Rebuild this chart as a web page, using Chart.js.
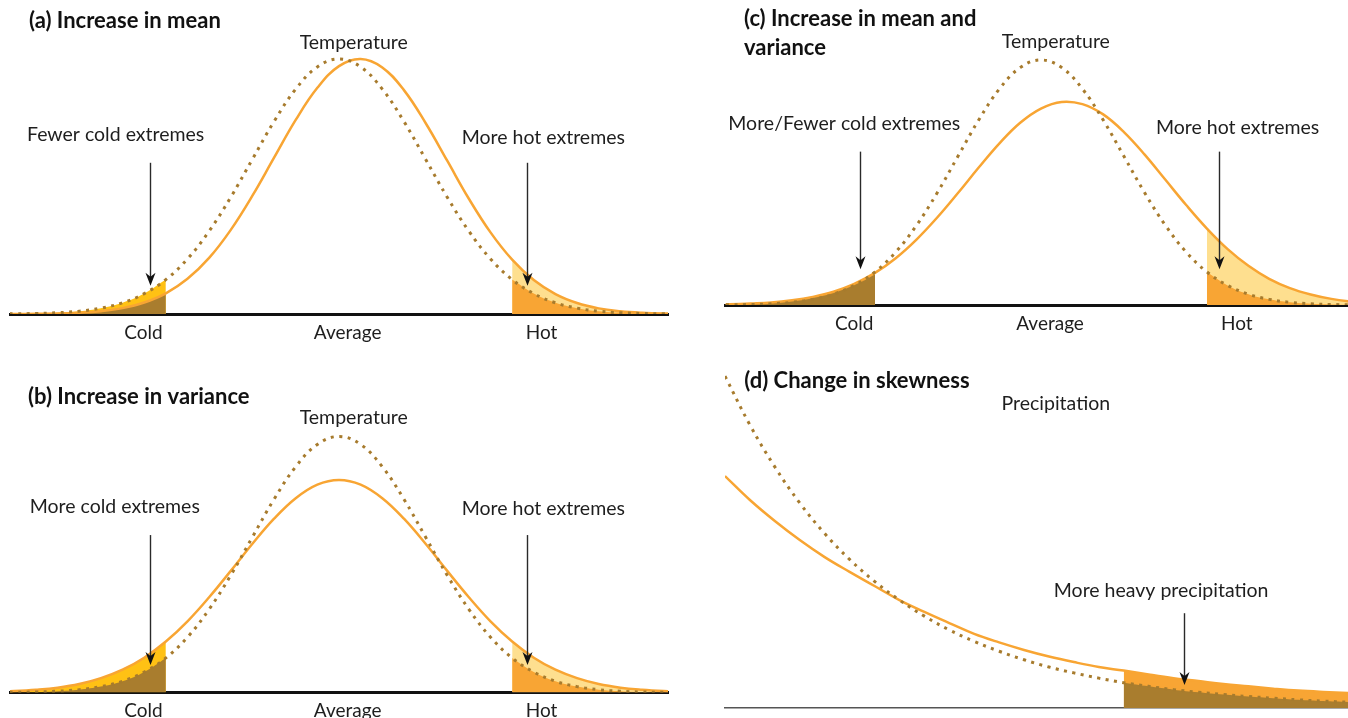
<!DOCTYPE html>
<html>
<head>
<meta charset="utf-8">
<script src="https://cdn.jsdelivr.net/npm/chart.js@4.4.1/dist/chart.umd.min.js"></script>
<style>
  body { margin: 0; background: #fff; }
  canvas { position: absolute; }
</style>
</head>
<body>
<canvas id="panelA" width="674" height="352" style="left:0;top:0"></canvas>
<canvas id="panelB" width="674" height="348" style="left:0;top:370px"></canvas>
<canvas id="panelC" width="648" height="352" style="left:700px;top:0"></canvas>
<canvas id="panelD" width="648" height="358" style="left:700px;top:360px"></canvas>
<script>
// Temperature panels: x in standard deviations of the old climate, y relative to old peak
const tempX = [-4, -3.75, -3.5, -3.25, -3, -2.75, -2.5, -2.25, -2, -1.75, -1.5, -1.25, -1, -0.75, -0.5, -0.25,
  0, 0.25, 0.5, 0.75, 1, 1.25, 1.5, 1.75, 2, 2.25, 2.5, 2.75, 3, 3.25, 3.5, 3.75, 4];
const oldTemp = [0.000, 0.001, 0.002, 0.005, 0.011, 0.023, 0.044, 0.080, 0.135, 0.216, 0.325, 0.458, 0.607, 0.755, 0.882, 0.969,
  1.000, 0.969, 0.882, 0.755, 0.607, 0.458, 0.325, 0.216, 0.135, 0.080, 0.044, 0.023, 0.011, 0.005, 0.002, 0.001, 0.000];
const newMean = [0.000, 0.000, 0.001, 0.002, 0.005, 0.011, 0.023, 0.045, 0.081, 0.138, 0.220, 0.330, 0.464, 0.613, 0.761, 0.887,
  0.972, 1.000, 0.967, 0.878, 0.749, 0.601, 0.452, 0.320, 0.213, 0.133, 0.078, 0.043, 0.022, 0.011, 0.005, 0.002, 0.001];
const newVariance = [0.003, 0.006, 0.011, 0.019, 0.033, 0.056, 0.089, 0.136, 0.199, 0.278, 0.372, 0.475, 0.581, 0.679, 0.759, 0.812,
  0.830, 0.812, 0.759, 0.679, 0.581, 0.475, 0.372, 0.278, 0.199, 0.136, 0.089, 0.056, 0.033, 0.019, 0.011, 0.006, 0.003];
const newMeanVariance = [0.001, 0.003, 0.006, 0.010, 0.019, 0.033, 0.054, 0.086, 0.131, 0.191, 0.267, 0.357, 0.457, 0.561, 0.660, 0.744,
  0.802, 0.829, 0.820, 0.778, 0.706, 0.614, 0.511, 0.408, 0.312, 0.228, 0.160, 0.107, 0.069, 0.043, 0.025, 0.014, 0.008];

// Precipitation panel
const precipX = [0, 4, 8, 12, 16, 20, 24, 28, 32, 36, 40, 44, 48, 52, 56, 60, 64, 68, 72, 76, 80, 84, 88, 92, 96, 100];
const oldPrecip = [101.2, 86.3, 73.5, 62.5, 53.2, 45.3, 38.6, 32.9, 28.0, 23.8, 20.3, 17.3, 14.7, 12.5, 10.7, 9.1,
  7.7, 6.6, 5.6, 4.8, 4.1, 3.5, 3.0, 2.5, 2.1, 1.8];
const newPrecip = [70.7, 63.4, 57.0, 51.2, 46.0, 41.5, 37.2, 32.9, 29.3, 25.9, 22.6, 20.0, 17.7, 15.7, 14.0, 12.5,
  11.4, 10.2, 9.1, 8.2, 7.3, 6.6, 5.9, 5.3, 4.9, 4.6];

const axisLabels = ['Cold', 'Average', 'Hot'];
const axisLabelPosAB = [-2.26, 0.10, 2.34];
const axisLabelPosC = [-2.25, 0.11, 2.36];
const coldLimit = -2, hotLimit = 2, heavyLimit = 64;

const FONT = 'Lato, "Open Sans", sans-serif';
const ORANGE = '#F8A533', DOTS = '#A77B2D';
const BROWN = '#A97D2E', GOLD = '#FFC114', PALE = '#FEDF8F', AMBER = '#F8A534';

const pts = (xs, ys) => xs.map((x, i) => ({ x, y: ys[i] }));

function curve(xs, ys, dotted) {
  return {
    data: pts(xs, ys),
    borderColor: dotted ? DOTS : ORANGE,
    borderWidth: dotted ? 3 : 2.5,
    borderDash: dotted ? [3, 5.5] : [],
    borderCapStyle: 'butt',
    pointRadius: 0,
    fill: false,
    tension: 0.4,
    order: dotted ? 0 : 1
  };
}

function tail(xs, ys, keep, color, order) {
  return {
    data: pts(xs, ys).filter(p => keep(p.x)),
    borderColor: 'rgba(0,0,0,0)',
    borderWidth: 0,
    backgroundColor: color,
    pointRadius: 0,
    fill: 'origin',
    tension: 0.4,
    order
  };
}

const annotate = {
  id: 'annotate',
  afterDatasetsDraw(chart, args, opts) {
    const { ctx, scales: { x, y } } = chart;
    ctx.save();
    ctx.fillStyle = '#1e1e1e';
    ctx.textAlign = 'center';
    ctx.textBaseline = 'middle';
    ctx.font = '19.5px ' + FONT;
    (opts.notes || []).forEach(n => ctx.fillText(n.text, x.getPixelForValue(n.x), y.getPixelForValue(n.y)));

    ctx.strokeStyle = '#2a2a2a';
    ctx.fillStyle = '#111';
    ctx.lineWidth = 1.4;
    (opts.arrows || []).forEach(a => {
      const px = Math.round(x.getPixelForValue(a.x)) + 0.5;
      const top = y.getPixelForValue(a.from), tip = y.getPixelForValue(a.to);
      ctx.beginPath();
      ctx.moveTo(px, top);
      ctx.lineTo(px, tip - 8);
      ctx.stroke();
      ctx.beginPath();
      ctx.moveTo(px, tip);
      ctx.lineTo(px - 5, tip - 13);
      ctx.lineTo(px, tip - 9);
      ctx.lineTo(px + 5, tip - 13);
      ctx.closePath();
      ctx.fill();
    });

    ctx.fillStyle = '#111';
    ctx.textAlign = 'left';
    ctx.font = 'bold 22px ' + FONT;
    (opts.title || []).forEach((t, i) => ctx.fillText(t, opts.titleX, opts.titleY + i * 29));
    ctx.restore();
  }
};

function makePanel(id, p) {
  new Chart(document.getElementById(id), {
    type: 'line',
    data: { datasets: p.datasets },
    options: {
      responsive: false,
      animation: false,
      events: [],
      layout: { padding: p.padding },
      scales: {
        x: {
          type: 'linear',
          min: p.xRange[0],
          max: p.xRange[1],
          afterBuildTicks: axis => { axis.ticks = (p.tickPos || []).map(v => ({ value: v })); },
          afterFit: axis => { axis.height = p.axisHeight; },
          grid: { display: false, drawTicks: false },
          border: { display: true, color: p.baseColor || '#111', width: p.baseWidth || 3 },
          ticks: {
            display: !!p.tickPos,
            autoSkip: false,
            maxRotation: 0,
            padding: 7,
            color: '#1e1e1e',
            font: { family: FONT, size: 19 },
            callback: (v, i) => axisLabels[i]
          }
        },
        y: { display: false, min: 0, max: p.yMax }
      },
      plugins: {
        legend: { display: false },
        tooltip: { enabled: false },
        annotate: p.annotate
      }
    },
    plugins: [annotate]
  });
}

const isCold = x => x <= coldLimit;
const isHot = x => x >= hotLimit;

// (a) Increase in mean
makePanel('panelA', {
  padding: { left: 10, right: 6, top: 8, bottom: 8 },
  axisHeight: 30,
  xRange: [-3.8, 3.8],
  yMax: 1.2,
  tickPos: axisLabelPosAB,
  datasets: [
    curve(tempX, oldTemp, true),
    curve(tempX, newMean, false),
    tail(tempX, newMean, isCold, BROWN, 2),
    tail(tempX, oldTemp, isCold, GOLD, 3),
    tail(tempX, oldTemp, isHot, AMBER, 2),
    tail(tempX, newMean, isHot, PALE, 3)
  ],
  annotate: {
    title: ['(a) Increase in mean'], titleX: 29, titleY: 21,
    notes: [
      { text: 'Temperature', x: 0.17, y: 1.064 },
      { text: 'Fewer cold extremes', x: -2.58, y: 0.703 },
      { text: 'More hot extremes', x: 2.36, y: 0.691 }
    ],
    arrows: [{ x: -2.18, from: 0.593, to: 0.111 }, { x: 2.17, from: 0.593, to: 0.111 }]
  }
});

// (b) Increase in variance
makePanel('panelB', {
  padding: { left: 10, right: 6, top: 15.3, bottom: 0 },
  axisHeight: 25.5,
  xRange: [-3.8, 3.8],
  yMax: 1.2,
  tickPos: axisLabelPosAB,
  datasets: [
    curve(tempX, oldTemp, true),
    curve(tempX, newVariance, false),
    tail(tempX, oldTemp, isCold, BROWN, 2),
    tail(tempX, newVariance, isCold, GOLD, 3),
    tail(tempX, oldTemp, isHot, AMBER, 2),
    tail(tempX, newVariance, isHot, PALE, 3)
  ],
  annotate: {
    title: ['(b) Increase in variance'], titleX: 28, titleY: 26.7,
    notes: [
      { text: 'Temperature', x: 0.17, y: 1.073 },
      { text: 'More cold extremes', x: -2.59, y: 0.726 },
      { text: 'More hot extremes', x: 2.36, y: 0.717 }
    ],
    arrows: [{ x: -2.18, from: 0.615, to: 0.107 }, { x: 2.17, from: 0.615, to: 0.107 }]
  }
});

// (c) Increase in mean and variance
makePanel('panelC', {
  padding: { left: 25.6, right: 0, top: 11, bottom: 17 },
  axisHeight: 30,
  xRange: [-3.8, 3.7],
  yMax: 1.2,
  tickPos: axisLabelPosC,
  datasets: [
    curve(tempX, oldTemp, true),
    curve(tempX, newMeanVariance, false),
    tail(tempX, newMeanVariance, isCold, BROWN, 2),
    tail(tempX, oldTemp, isCold, BROWN, 3),
    tail(tempX, oldTemp, isHot, AMBER, 2),
    tail(tempX, newMeanVariance, isHot, PALE, 3)
  ],
  annotate: {
    title: ['(c) Increase in mean and', 'variance'], titleX: 44, titleY: 19.3,
    notes: [
      { text: 'Temperature', x: 0.18, y: 1.075 },
      { text: 'More/Fewer cold extremes', x: -2.37, y: 0.739 },
      { text: 'More hot extremes', x: 2.37, y: 0.724 }
    ],
    arrows: [{ x: -2.18, from: 0.626, to: 0.146 }, { x: 2.14, from: 0.626, to: 0.146 }]
  }
});

// (d) Change in skewness
makePanel('panelD', {
  padding: { left: 25, right: 0, top: 3.6, bottom: 10 },
  axisHeight: 0,
  xRange: [0, 100],
  yMax: 105,
  tickPos: null,
  baseColor: '#555',
  baseWidth: 1.5,
  datasets: [
    curve(precipX, oldPrecip, true),
    curve(precipX, newPrecip, false),
    tail(precipX, oldPrecip, x => x >= heavyLimit, BROWN, 2),
    tail(precipX, newPrecip, x => x >= heavyLimit, AMBER, 3)
  ],
  annotate: {
    title: ['(d) Change in skewness'], titleX: 44.3, titleY: 21,
    notes: [
      { text: 'Precipitation', x: 53.1, y: 92.9 },
      { text: 'More heavy precipitation', x: 70, y: 35.8 }
    ],
    arrows: [{ x: 73.6, from: 28.9, to: 7.0 }]
  }
});
</script>
</body>
</html>
